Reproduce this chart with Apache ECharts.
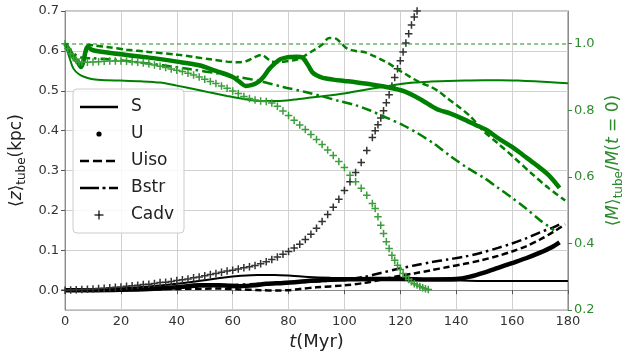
<!DOCTYPE html>
<html><head><meta charset="utf-8">
<script src="https://cdn.jsdelivr.net/npm/echarts@6/dist/echarts.min.js"></script>
<style>html,body{margin:0;padding:0;background:#fff}#c{width:633px;height:356px}</style>
</head><body><div id="c"></div>
<script>
// ---------- tick labels ----------
const xTicks = [0, 20, 40, 60, 80, 100, 120, 140, 160, 180];
const zTicks = [0, 0.1, 0.2, 0.3, 0.4, 0.5, 0.6, 0.7];
const mTicks = [0.2, 0.4, 0.6, 0.8, 1.0];
const refLevel = 1.0;
const legendNames = ['S', 'U', 'Uiso', 'Bstr', 'Cadv'];

// ---------- <z>_tube (kpc), left axis, black ----------
const tS_z = [0, 10, 20, 30, 40, 50, 57, 63, 69, 75, 81, 87, 95, 105, 115, 125, 135, 142, 150, 160, 170, 180];
const vS_z = [0, 0.001, 0.004, 0.009, 0.016, 0.025, 0.032, 0.036, 0.038, 0.038, 0.036, 0.033, 0.031, 0.03, 0.029, 0.027, 0.025, 0.024, 0.023, 0.023, 0.023, 0.023];

const tU_z = [0, 10, 20, 30, 40, 48, 55, 62, 68, 72, 78, 84, 89, 95, 100, 110, 120, 130, 140, 145, 150, 155, 160, 165, 170, 174, 177];
const vU_z = [0, 0, 0.001, 0.003, 0.007, 0.012, 0.012, 0.01, 0.012, 0.016, 0.018, 0.021, 0.024, 0.026, 0.027, 0.028, 0.028, 0.027, 0.028, 0.034, 0.044, 0.056, 0.068, 0.08, 0.094, 0.107, 0.12];

const tUiso_z = [0, 20, 40, 55, 62, 70, 76, 80, 84, 90, 100, 107, 113, 119, 125, 131, 137, 143, 149, 155, 160, 165, 170, 175, 179];
const vUiso_z = [0, 0.001, 0.003, 0.004, 0.002, 0, -0.001, 0, 0.003, 0.007, 0.012, 0.018, 0.026, 0.035, 0.042, 0.05, 0.058, 0.066, 0.075, 0.086, 0.097, 0.11, 0.127, 0.147, 0.165];

const tBstr_z = [0, 20, 40, 50, 60, 70, 80, 90, 100, 107, 113, 119, 125, 131, 137, 143, 149, 155, 160, 165, 170, 175, 178];
const vBstr_z = [0, 0.002, 0.006, 0.01, 0.013, 0.016, 0.019, 0.022, 0.027, 0.033, 0.043, 0.053, 0.062, 0.07, 0.077, 0.084, 0.094, 0.106, 0.117, 0.13, 0.145, 0.158, 0.168];

const tCadv_z = [0, 2, 4, 6, 8, 10, 12, 14, 16, 18, 20, 22, 24, 26, 28, 30, 32, 34, 36, 38, 40, 42, 44, 46, 48, 50, 52, 54, 56, 58, 60, 62, 64, 66, 68, 70, 72, 74, 76, 78, 80, 82, 84, 86, 88, 90, 92, 94, 96, 98, 100, 102, 104, 106, 108, 110, 111, 112, 113, 114, 115, 116, 117, 118, 119, 120, 121, 122, 123, 124, 125, 126];
const vCadv_z = [0, 0.0005, 0.001, 0.0015, 0.002, 0.003, 0.004, 0.005, 0.006, 0.007, 0.008, 0.0095, 0.011, 0.0125, 0.014, 0.015, 0.017, 0.019, 0.02, 0.022, 0.024, 0.026, 0.028, 0.031, 0.033, 0.036, 0.039, 0.042, 0.045, 0.048, 0.05, 0.053, 0.056, 0.059, 0.062, 0.066, 0.071, 0.077, 0.083, 0.09, 0.097, 0.106, 0.115, 0.127, 0.14, 0.155, 0.172, 0.19, 0.208, 0.228, 0.25, 0.272, 0.295, 0.32, 0.35, 0.383, 0.4, 0.415, 0.432, 0.45, 0.47, 0.49, 0.512, 0.533, 0.555, 0.575, 0.597, 0.62, 0.643, 0.665, 0.685, 0.7];

// ---------- <M>_tube / M(t=0), right axis, green ----------
const tS_m = [0, 1.5, 3, 5, 7, 10, 15, 20, 27, 34, 40, 46, 52, 58, 64, 70, 76, 82, 88, 95, 101, 107, 113, 119, 125, 131, 137, 143, 150, 156, 162, 168, 174, 180];
const vS_m = [1.0, 0.96, 0.925, 0.908, 0.9, 0.893, 0.89, 0.889, 0.887, 0.883, 0.874, 0.864, 0.853, 0.843, 0.834, 0.828, 0.828, 0.832, 0.838, 0.845, 0.852, 0.861, 0.869, 0.877, 0.883, 0.886, 0.888, 0.889, 0.89, 0.89, 0.889, 0.887, 0.884, 0.881];

const tU_m = [0, 1.5, 3, 4.5, 5.7, 6.5, 7.3, 8, 10, 20, 30, 40, 48, 54, 60, 62.5, 64.6, 67, 69, 71, 73, 75, 77, 79, 81, 83, 85, 87, 88.5, 90, 92, 96, 100, 104, 110, 115, 121, 127, 133, 138, 143, 147, 151, 155, 160, 164, 168, 173, 177];
const vU_m = [1.0, 0.98, 0.96, 0.945, 0.93, 0.945, 0.975, 0.99, 0.98, 0.968, 0.958, 0.946, 0.935, 0.918, 0.9, 0.885, 0.873, 0.876, 0.884, 0.9, 0.923, 0.94, 0.953, 0.958, 0.96, 0.961, 0.958, 0.935, 0.914, 0.905, 0.898, 0.892, 0.888, 0.884, 0.877, 0.87, 0.858, 0.834, 0.804, 0.79, 0.772, 0.756, 0.74, 0.716, 0.69, 0.665, 0.64, 0.606, 0.567];

const tUiso_m = [0, 1.5, 3, 4.5, 5.7, 7, 8.5, 10, 15, 22, 30, 40, 46, 52, 58, 62, 65, 68, 70.5, 72, 74, 77, 80, 83, 86, 89, 92, 94.5, 97, 99, 101, 104, 107, 110, 113, 116, 119, 122, 125, 128, 131, 134, 137, 141, 145, 150, 155, 161, 167, 173, 179];
const vUiso_m = [1.0, 0.98, 0.96, 0.945, 0.93, 0.96, 0.997, 0.995, 0.99, 0.982, 0.975, 0.967, 0.96, 0.953, 0.946, 0.944, 0.948, 0.96, 0.966, 0.958, 0.946, 0.945, 0.948, 0.952, 0.965, 0.98, 0.997, 1.017, 1.015, 1.0, 0.985, 0.978, 0.975, 0.965, 0.953, 0.94, 0.923, 0.908, 0.893, 0.88, 0.87, 0.855, 0.835, 0.81, 0.782, 0.736, 0.7, 0.656, 0.61, 0.567, 0.529];

const tBstr_m = [0, 2, 4, 6, 10, 16, 25, 35, 45, 55, 62, 70, 78, 86, 92, 98, 104, 109, 115, 121, 126, 132, 138, 144, 150, 155, 160, 165, 170, 175];
const vBstr_m = [1.0, 0.98, 0.965, 0.958, 0.956, 0.953, 0.945, 0.935, 0.923, 0.91, 0.9, 0.887, 0.87, 0.855, 0.842, 0.828, 0.815, 0.8, 0.778, 0.755, 0.732, 0.7, 0.662, 0.627, 0.597, 0.567, 0.537, 0.505, 0.47, 0.44];

const tCadv_m = [0, 1, 2, 3, 4, 5, 6, 8, 10, 12, 14, 16, 18, 20, 22, 24, 26, 28, 30, 32, 34, 36, 38, 40, 42, 44, 46, 48, 50, 52, 54, 56, 58, 60, 62, 64, 66, 68, 70, 72, 74, 76, 78, 80, 82, 84, 86, 88, 90, 92, 94, 96, 98, 100, 102, 104, 106, 108, 110, 111, 112, 113, 114, 115, 116, 117, 118, 119, 120, 121, 122, 123, 124, 125, 126, 127, 128, 129, 130];
const vCadv_m = [1.0, 0.985, 0.97, 0.958, 0.95, 0.945, 0.944, 0.944, 0.945, 0.946, 0.947, 0.948, 0.948, 0.948, 0.947, 0.946, 0.944, 0.942, 0.94, 0.936, 0.932, 0.928, 0.924, 0.92, 0.916, 0.911, 0.906, 0.9, 0.893, 0.886, 0.88, 0.873, 0.866, 0.858, 0.85, 0.841, 0.835, 0.831, 0.828, 0.826, 0.822, 0.812, 0.798, 0.784, 0.77, 0.756, 0.742, 0.727, 0.712, 0.697, 0.681, 0.664, 0.646, 0.628, 0.605, 0.585, 0.566, 0.545, 0.52, 0.505, 0.48, 0.455, 0.43, 0.405, 0.385, 0.365, 0.35, 0.335, 0.322, 0.31, 0.3, 0.292, 0.285, 0.279, 0.275, 0.271, 0.267, 0.264, 0.262];

// ---------- build ----------
const pairs = (t, v) => t.map((x, i) => [x, v[i]]);
const BLACK = '#000000', GREEN = '#008000', GREEN_PLUS = '#3a9e3a';
const PLUS = 'path://M4,0H6V4H10V6H6V10H4V6H0V4H4Z';
const FONT = 'DejaVu Sans';
const DASH = [6.5, 3.5];
const DASHDOT = [10, 4, 2.5, 4];

function lineSeries(name, t, v, axis, color, width, type) {
  return { name, type: 'line', yAxisIndex: axis, data: pairs(t, v), smooth: 0.3,
    symbol: 'none', lineStyle: { color, width, type: type || 'solid', cap: 'butt' },
    silent: true, animation: false, z: axis === 1 ? 3 : 2 };
}
function plusSeries(name, t, v, axis, color) {
  return { name, type: 'line', yAxisIndex: axis, data: pairs(t, v),
    symbol: PLUS, symbolSize: 7.5, showSymbol: true, showAllSymbol: true,
    itemStyle: { color }, lineStyle: { width: 0, opacity: 0 },
    silent: true, animation: false, z: axis === 1 ? 3 : 2 };
}

const series = [
  lineSeries('S', tS_z, vS_z, 0, BLACK, 2),
  lineSeries('U', tU_z, vU_z, 0, BLACK, 4.5),
  lineSeries('Uiso', tUiso_z, vUiso_z, 0, BLACK, 2.5, DASH),
  lineSeries('Bstr', tBstr_z, vBstr_z, 0, BLACK, 2.5, DASHDOT),
  plusSeries('Cadv', tCadv_z, vCadv_z, 0, '#333333'),
  lineSeries('S M', tS_m, vS_m, 1, GREEN, 2),
  lineSeries('U M', tU_m, vU_m, 1, GREEN, 4.5),
  lineSeries('Uiso M', tUiso_m, vUiso_m, 1, GREEN, 2.5, DASH),
  lineSeries('Bstr M', tBstr_m, vBstr_m, 1, GREEN, 2.5, DASHDOT),
  plusSeries('Cadv M', tCadv_m, vCadv_m, 1, GREEN_PLUS),
];
// reference level M/M(t=0)=1
series[5].markLine = { silent: true, symbol: 'none', label: { show: false },
  lineStyle: { color: 'rgba(0,128,0,0.6)', width: 1.5, type: [4, 3] },
  data: [{ yAxis: refLevel }] };

// legend drawn as graphic (matplotlib-style box)
const LX = 80, LX2 = 118, LT = 131, ly = [107, 134, 161, 188, 215];
const legendG = [
  { type: 'rect', shape: { x: 73, y: 89, width: 111, height: 144, r: 4 },
    style: { fill: 'rgba(255,255,255,0.85)', stroke: '#cccccc', lineWidth: 1 }, z: 100 },
  { type: 'line', shape: { x1: LX, y1: ly[0], x2: LX2, y2: ly[0] }, style: { stroke: BLACK, lineWidth: 2.5 }, z: 101 },
  { type: 'circle', shape: { cx: 99, cy: ly[1], r: 2.6 }, style: { fill: BLACK }, z: 101 },
  { type: 'line', shape: { x1: LX, y1: ly[2], x2: LX2, y2: ly[2] }, style: { stroke: BLACK, lineWidth: 2.5, lineDash: [9, 4] }, z: 101 },
  { type: 'line', shape: { x1: LX, y1: ly[3], x2: LX2, y2: ly[3] }, style: { stroke: BLACK, lineWidth: 2.5, lineDash: [19, 3.5, 3, 3.5] }, z: 101 },
  { type: 'line', shape: { x1: 94.5, y1: ly[4], x2: 103.5, y2: ly[4] }, style: { stroke: BLACK, lineWidth: 1.2 }, z: 101 },
  { type: 'line', shape: { x1: 99, y1: ly[4] - 4.5, x2: 99, y2: ly[4] + 4.5 }, style: { stroke: BLACK, lineWidth: 1.2 }, z: 101 },
];
legendNames.forEach((n, i) => legendG.push({ type: 'text', x: LT, y: ly[i], z: 101,
  style: { text: n, font: '17px "' + FONT + '"', fill: '#222', verticalAlign: 'middle', align: 'left' } }));

const chart = echarts.init(document.getElementById('c'), null, { renderer: 'canvas' });
chart.setOption({
  animation: false,
  backgroundColor: '#ffffff',
  grid: { left: 64, right: 60, top: 11, bottom: 42, show: true, borderColor: '#8c8c8c', borderWidth: 1, backgroundColor: 'transparent' },
  xAxis: {
    type: 'value', min: 0, max: 180, interval: 20,
    name: '{it|t}{n|(Myr)}', nameLocation: 'middle', nameGap: 21,
    nameTextStyle: { fontFamily: FONT, color: '#222', rich: {
      it: { fontSize: 18, fontStyle: 'italic', fontFamily: FONT, color: '#222' },
      n: { fontSize: 18, fontFamily: FONT, color: '#222' } } },
    axisLine: { show: true, lineStyle: { color: '#8c8c8c', width: 1 } },
    axisTick: { show: true, length: 4, lineStyle: { color: '#555' } },
    axisLabel: { fontFamily: FONT, fontSize: 13, color: '#333', margin: 5, formatter: v => String(v) },
    splitLine: { show: true, lineStyle: { color: '#d0d0d0', width: 1 } },
  },
  yAxis: [{
    type: 'value', min: -0.05, max: 0.7, position: 'left',
    name: '{a|⟨}{it|z}{a|⟩}{sub|tube}{a|(kpc)}', nameLocation: 'middle', nameGap: 30, nameRotate: 90,
    nameTextStyle: { rich: {
      a: { fontSize: 17, fontFamily: FONT, color: '#222', lineHeight: 22 },
      it: { fontSize: 17, fontFamily: FONT, fontStyle: 'italic', color: '#222', lineHeight: 22 },
      sub: { fontSize: 12, fontFamily: FONT, color: '#222', lineHeight: 10, verticalAlign: 'bottom' } } },
    axisLine: { show: true, lineStyle: { color: '#8c8c8c', width: 1 } },
    axisTick: { show: true, length: 4, customValues: zTicks, lineStyle: { color: '#555' } },
    axisLabel: { fontFamily: FONT, fontSize: 13, color: '#333', margin: 6,
      customValues: zTicks, formatter: v => v.toFixed(1) },
    splitLine: { show: true, lineStyle: { color: '#d0d0d0', width: 1 } },
  }, {
    type: 'value', min: 0.2, max: 1.098, position: 'right',
    name: '{a|⟨}{it|M}{a|⟩}{sub|tube}{a|/}{it|M}{a|(}{it|t}{a| = 0)}', nameLocation: 'middle', nameGap: 30, nameRotate: 90,
    nameTextStyle: { rich: {
      a: { fontSize: 17, fontFamily: FONT, color: '#2e8b2e', lineHeight: 22 },
      it: { fontSize: 17, fontFamily: FONT, fontStyle: 'italic', color: '#2e8b2e', lineHeight: 22 },
      sub: { fontSize: 12, fontFamily: FONT, color: '#2e8b2e', lineHeight: 10, verticalAlign: 'bottom' } } },
    axisLine: { show: true, lineStyle: { color: '#8c8c8c', width: 1 } },
    axisTick: { show: true, length: 4, customValues: mTicks, lineStyle: { color: '#2e8b2e' } },
    axisLabel: { fontFamily: FONT, fontSize: 13, color: '#2e8b2e', margin: 6,
      customValues: mTicks, formatter: v => v.toFixed(1) },
    splitLine: { show: false },
  }],
  graphic: legendG,
  series,
});
</script></body></html>
